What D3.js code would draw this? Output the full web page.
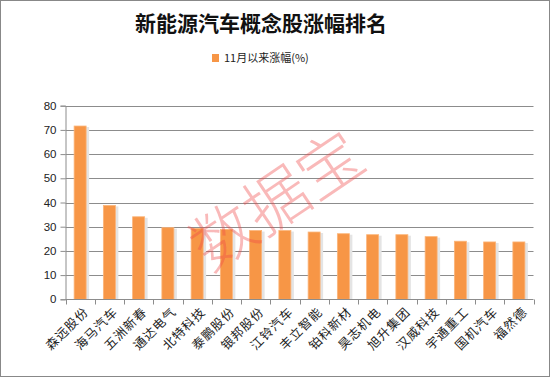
<!DOCTYPE html>
<html><head><meta charset="utf-8">
<script src="https://cdn.jsdelivr.net/npm/d3@7/dist/d3.min.js"></script>
<style>body{margin:0;background:#fff}svg{display:block}</style>
</head><body><svg id="c" width="550" height="378"></svg>
<script>
const categories = ["森远股份","海马汽车","五洲新春","通达电气","北特科技","泰鹏股份","银邦股份","江铃汽车","丰立智能","铂科新材","昊志机电","旭升集团","汉威科技","宇通重工","国机汽车","福然德"];
const values = [71.6,38.8,34.1,29.6,29.3,28.9,28.4,28.4,27.8,27.1,26.7,26.7,25.9,24.0,23.7,23.7];
const yTicks = [0,10,20,30,40,50,60,70,80];
const seriesName = "11月以来涨幅(%)";
const titleText = "新能源汽车概念股涨幅排名";
const watermark = "数据宝";

const svg = d3.select("#c");
const L = 65.5, R = 533.5, T = 105.7, B = 299.3;
svg.append("rect").attr("x",0.5).attr("y",0.5).attr("width",549).attr("height",376)
  .attr("fill","#fff").attr("stroke","#888");

const x = d3.scaleBand().domain(categories).range([L,R]).paddingInner(0).paddingOuter(0);
const y = d3.scaleLinear().domain([0,80]).range([B,T]);

// gridlines
svg.append("g").selectAll("line").data(yTicks.slice(1)).join("line")
  .attr("x1",L).attr("x2",R).attr("y1",d=>Math.round(y(d))+0.5).attr("y2",d=>Math.round(y(d))+0.5)
  .attr("stroke","#8c8c8c").attr("stroke-width",1);

// y axis
const ya = svg.append("g").attr("transform",`translate(${L},0)`)
  .call(d3.axisLeft(y).tickValues(yTicks).tickSize(5).tickPadding(4).tickFormat(d3.format("d")));
ya.select(".domain").attr("stroke","#8c8c8c");
ya.selectAll(".tick line").attr("stroke","#8c8c8c");
ya.selectAll("text").attr("font-family","Liberation Sans, Arial, sans-serif").attr("font-size",11.5).attr("fill","#222");

// bars
const bw = 12;
const bars = svg.append("g");
bars.selectAll("rect.sh").data(values).join("rect").attr("class","sh")
  .attr("x",(d,i)=>x(categories[i])+x.bandwidth()/2-bw/2+1.5)
  .attr("y",d=>y(d)+1).attr("width",bw+1.5).attr("height",d=>B-y(d)-1)
  .attr("fill","#e4e4e4");
bars.selectAll("rect.b").data(values).join("rect").attr("class","b")
  .attr("x",(d,i)=>x(categories[i])+x.bandwidth()/2-bw/2)
  .attr("y",d=>y(d)).attr("width",bw).attr("height",d=>B-y(d))
  .attr("fill","#f79646").attr("stroke","#fbb57a").attr("stroke-width",0.8);

// x axis
const xa = svg.append("g").attr("transform",`translate(0,${Math.round(B)+0.5})`);
xa.append("line").attr("x1",L).attr("x2",R).attr("stroke","#8c8c8c");
const bounds = categories.map(c=>x(c)).concat([R]);
xa.selectAll("line.t").data(bounds).join("line").attr("class","t")
  .attr("x1",d=>Math.round(d)+0.5).attr("x2",d=>Math.round(d)+0.5).attr("y1",0).attr("y2",5).attr("stroke","#8c8c8c");
xa.selectAll("text").data(categories).join("text")
  .attr("transform",d=>`translate(${x(d)+x.bandwidth()/2+6},${10}) rotate(-45)`)
  .attr("text-anchor","end").attr("dy","0.35em")
  .attr("font-family","Noto Sans CJK SC, sans-serif").attr("font-size",12.5)
  .attr("letter-spacing",1).attr("fill","#222").text(d=>d);

// title
svg.append("text").attr("x",261).attr("y",31).attr("text-anchor","middle")
  .attr("font-family","Noto Sans CJK SC, sans-serif").attr("font-weight","bold").attr("font-size",21)
  .attr("fill","#111").text(titleText);

// legend
svg.append("rect").attr("x",212).attr("y",54).attr("width",7).attr("height",8).attr("fill","#f79646");
svg.append("text").attr("x",224).attr("y",62).attr("font-family","Noto Sans CJK SC, sans-serif")
  .attr("font-size",11).attr("fill","#222").text(seriesName);

// watermark
svg.append("text").attr("transform","translate(277,201) rotate(-34)").attr("text-anchor","middle")
  .attr("dy","0.35em").attr("font-family","Noto Sans CJK SC, sans-serif").attr("font-weight",300).attr("font-size",64)
  .attr("fill","rgba(240,70,70,0.38)").text(watermark);
</script></body></html>
